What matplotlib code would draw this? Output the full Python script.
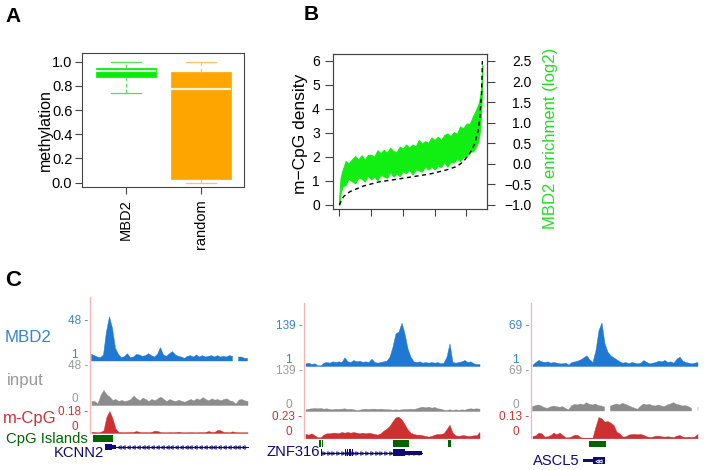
import numpy as np
import matplotlib
matplotlib.use('Agg')
import matplotlib.pyplot as plt
import matplotlib.transforms as mtransforms
from matplotlib.patches import Rectangle

plt.rcParams['font.family'] = ['Liberation Sans', 'DejaVu Sans']
plt.rcParams['axes.linewidth'] = 0.8

nan = np.nan

# ---------------- data ----------------

# Panel A: methylation boxplots
box_groups = ['MBD2', 'random']
box_whislo = [0.74, 0.0]
box_q1     = [0.876, 0.028]
box_med    = [0.923, 0.777]
box_q3     = [0.945, 0.917]
box_whishi = [1.0, 1.0]

# Panel B: sorted regions, m-CpG density (left axis) and MBD2 enrichment band (right axis)
density_x = [0, 270, 690, 1530, 2570, 3620, 4660, 5710, 6750, 7380, 7800,
             8210, 8530, 8740, 8840, 8950, 9000]
density_y = [0.0, 0.35, 0.56, 0.79, 0.97, 1.07, 1.18, 1.29, 1.46, 1.60, 1.80,
             2.15, 2.57, 3.12, 3.68, 4.65, 6.0]

band_x = [0, 80, 200, 400, 600, 800, 1000, 1200, 1400, 1600, 1800, 2000,
          2200, 2400, 2600, 2800, 3000, 3200, 3400, 3600, 3800, 4000, 4200,
          4400, 4600, 4800, 5000, 5200, 5400, 5600, 5800, 6000, 6200, 6400,
          6600, 6800, 7000, 7200, 7400, 7600, 7800, 8000, 8200, 8400,
          8550, 8700, 8800, 8880, 8940, 8980, 9000]
band_lo = [-1.00, -0.72, -0.55, -0.51, -0.36, -0.43, -0.47, -0.34, -0.36, -0.43,
           -0.29, -0.38, -0.31, -0.40, -0.26, -0.31, -0.34, -0.20, -0.31, -0.23,
           -0.30, -0.18, -0.23, -0.14, -0.26, -0.14, -0.16, -0.19, -0.06, -0.14,
           -0.06, -0.14, -0.04, -0.08, 0.04, -0.07, 0.05, 0.03, 0.13, 0.06,
           0.17, 0.17, 0.29, 0.30,
           0.38, 0.50, 0.65, 0.95, 1.39, 1.85, 2.12]
band_hi = [-0.80, -0.34, -0.16, 0.07, 0.01, 0.11, 0.19, 0.10, 0.21, 0.10,
           0.22, 0.22, 0.17, 0.33, 0.26, 0.34, 0.27, 0.39, 0.31, 0.28,
           0.42, 0.37, 0.47, 0.39, 0.47, 0.42, 0.58, 0.49, 0.55, 0.51,
           0.64, 0.58, 0.66, 0.57, 0.70, 0.74, 0.67, 0.77, 0.73, 0.91,
           0.86, 0.98, 0.97, 1.15,
           1.27, 1.40, 1.52, 1.70, 1.96, 2.25, 2.40]

# Panel C: browser tracks (one value per bin)
kcnn2_mbd2 = [8.8, 7.3, 5.7, 4.9, 8.1, 35.5, 53.0, 39.4, 15.9, 8.8,
              4.9, 6.1, 9.6, 4.9, 5.7, 8.8, 8.1, 6.5, 7.3, 9.6,
              7.3, 5.7, 8.8, 16.7, 8.1, 6.5, 9.6, 12.0, 8.1, 6.5,
              5.7, 4.1, 6.5, 7.3, 5.7, 8.1, 5.7, 7.3, 5.7, 6.5,
              7.3, 5.7, 7.3, 5.7, 6.5, 5.7, 7.3, 6.5, nan, 5.7,
              5.7, 4.1, 4.1]
kcnn2_input = [4.9, 4.9, 2.0, 12.3, 18.5, 13.1, 10.3, 6.2, 7.4, 4.9,
               6.2, 4.9, 5.7, 7.4, 11.5, 8.2, 5.7, 9.0, 7.4, 4.9,
               7.4, 5.7, 8.2, 10.3, 7.4, 4.9, 7.4, 5.7, 4.9, 6.6,
               4.9, 4.1, 5.7, 7.4, 5.7, 8.2, 6.6, 9.8, 7.4, 5.7,
               8.2, 6.6, 7.4, 5.7, 7.4, 8.2, 5.7, 4.9, 1.6, 6.6,
               7.4, 5.7, 4.9]
kcnn2_mcpg = [0.009, 0.009, 0.006, 0.009, 0.023, 0.137, 0.186, 0.123, 0.037, 0.009,
              0.008, 0.007, 0.008, 0.009, 0.010, 0.017, 0.009, 0.007, 0.008, 0.007,
              0.009, 0.020, 0.017, 0.008, 0.007, 0.006, 0.008, 0.007, 0.008, 0.011,
              0.007, 0.006, 0.007, 0.008, 0.007, 0.006, 0.008, 0.007, 0.009, 0.017,
              0.009, 0.010, 0.026, 0.023, 0.009, 0.008, 0.007, 0.014, 0.008, 0.007,
              0.006, 0.007, 0.006]

znf316_mbd2 = [10.2, 12.5, 7.9, 10.2, 3.3, 3.3, 12.5, 14.8, 12.5, 17.1,
               14.8, 17.1, 14.8, 30.9, 17.1, 14.8, 21.7, 17.1, 19.4, 14.8,
               17.1, 14.8, 26.3, 14.8, 12.5, 14.8, 17.1, 19.4, 33.2, 67.7,
               113.7, 119.5, 150.5, 113.7, 62.0, 33.2, 17.1, 14.8, 17.1, 12.5,
               14.8, 12.5, 14.8, 12.5, 14.8, 10.2, 12.5, 33.2, 79.2, 14.8,
               12.5, 14.8, 17.1, 21.7, 14.8, 17.1, 10.2, 7.9, 7.9]
znf316_input = [5.8, 8.1, 9.3, 10.4, 9.3, 10.4, 8.1, 9.3, 6.9, 5.8,
                8.1, 6.9, 8.1, 9.3, 6.9, 8.1, 5.8, 3.5, 4.6, 6.9,
                8.1, 6.9, 8.1, 8.1, 6.9, 8.1, 6.9, 5.8, 5.8, 4.6,
                5.8, 4.6, 5.8, 6.9, 6.9, 8.1, 6.9, 9.3, 12.8, 15.0,
                12.8, 15.0, 11.6, 13.9, 9.3, 8.1, 4.6, 3.5, 5.8, 3.5,
                5.8, 3.5, 5.8, 4.6, 8.1, 9.3, 8.1, 9.3, 8.1]
znf316_mcpg = [0.046, 0.039, 0.053, 0.032, 0.011, 0.011, 0.039, 0.053, 0.053, 0.060,
               0.060, 0.053, 0.067, 0.060, 0.067, 0.060, 0.067, 0.060, 0.053, 0.060,
               0.053, 0.060, 0.053, 0.046, 0.039, 0.053, 0.081, 0.102, 0.131, 0.180,
               0.223, 0.230, 0.202, 0.152, 0.096, 0.060, 0.046, 0.039, 0.039, 0.032,
               0.025, 0.018, 0.025, 0.039, 0.046, 0.046, 0.053, 0.096, 0.145, 0.060,
               0.032, 0.025, 0.032, 0.032, 0.025, 0.025, 0.032, 0.032, 0.067]

ascl5_mbd2 = [3.3, 7.8, 11.2, 8.9, 7.8, 8.9, 6.7, 7.8, 6.7, 5.5,
              5.5, 6.7, 3.3, 7.8, 8.9, 10.1, 12.3, 15.7, 19.1, 12.3,
              7.8, 28.2, 62.0, 75.0, 39.5, 25.4, 19.1, 15.7, 12.3, 8.9,
              6.7, 7.8, 5.5, 7.8, 6.7, 5.5, 6.7, 11.2, 7.8, 5.5,
              6.7, 7.8, 10.1, 8.9, 11.2, 7.8, 8.9, 6.7, 13.5, 16.9,
              10.1, 7.8, 6.7, 5.5, 6.7, 7.8]
ascl5_input = [7.5, 9.2, 10.4, 8.6, 5.8, 4.6, 6.9, 8.6, 7.5, 6.3,
               7.5, 4.6, 1.7, 8.6, 11.5, 10.4, 12.1, 10.4, 14.4, 11.5,
               10.4, 12.1, 9.2, 8.6, 6.9, nan, 8.6, 10.4, 12.1, 10.4,
               13.2, 11.5, 9.2, 6.9, 5.0, 2.9, 8.0, 12.1, 10.4, 11.5,
               9.2, 8.6, 10.4, 8.6, 7.5, 10.4, 12.1, 14.4, 11.5, 10.4,
               8.6, 9.2, 7.5, 4.6, nan, 6.9]
ascl5_mcpg = [0.014, 0.018, 0.034, 0.030, 0.010, 0.012, 0.020, 0.034, 0.024, 0.034,
              0.020, 0.006, 0.006, 0.012, 0.022, 0.020, 0.006, 0.004, 0.004, 0.004,
              0.004, 0.070, 0.128, 0.120, 0.100, 0.104, 0.094, 0.080, 0.040, 0.030,
              0.010, 0.012, 0.022, 0.026, 0.026, 0.024, 0.026, 0.020, 0.012, 0.008,
              0.010, 0.016, 0.016, 0.012, 0.010, 0.012, 0.010, 0.008, 0.016, 0.020,
              0.010, 0.008, 0.010, 0.008, 0.010, 0.026]

# scale labels (bottom, top) for each track
kcnn2_scales  = [(1, 48), (0, 48), (0, 0.18)]
znf316_scales = [(1, 139), (0, 139), (0, 0.23)]
ascl5_scales  = [(1, 69), (0, 69), (0, 0.13)]

# annotations, in bin units
kcnn2_islands  = [(1.1, 7.8)]
znf316_islands = [(5.0, 5.6), (6.0, 6.4), (29.8, 35.1), (48.1, 48.9)]
ascl5_islands  = [(19.4, 25.0)]

kcnn2_intron  = (8.5, 52.6)
znf316_intron = (5.6, 39.2)
ascl5_intron  = None
kcnn2_thick   = [(5.1, 7.3)]
kcnn2_thin    = [(7.3, 8.5)]
znf316_thick  = [(5.6, 5.9), (13.6, 13.85), (14.3, 14.55), (15.0, 15.25), (15.4, 15.65),
                 (16.1, 16.35), (16.9, 17.15), (29.8, 33.7)]
znf316_thin   = [(33.7, 39.2)]
ascl5_thick   = [(20.7, 24.7)]
ascl5_thin    = [(17.3, 20.7)]

# ---------------- figure ----------------

W, H = 704, 470
fig = plt.figure(figsize=(W / 100, H / 100), dpi=100)


def px_axes(x0, y0, x1, y1):
    return fig.add_axes([x0 / W, 1 - y1 / H, (x1 - x0) / W, (y1 - y0) / H])


def fig_text(x, y, s, **kw):
    fig.text(x / W, 1 - y / H, s, **kw)


# ---- Panel A ----
axA = px_axes(82, 53, 244, 187)
stats = [dict(label=g, whislo=a, q1=b, med=c, q3=d, whishi=e)
         for g, a, b, c, d, e in zip(box_groups, box_whislo, box_q1, box_med, box_q3, box_whishi)]
bp = axA.bxp(stats, positions=[1, 2], widths=0.8, patch_artist=True, showfliers=False)
fill_cols = ['#00ee00', '#ffa500']
line_cols = ['#55dd55', '#ffc266']
med_cols = ['#d8ffd8', '#fff4dc']
for i in range(2):
    bp['boxes'][i].set(facecolor=fill_cols[i], edgecolor=fill_cols[i], linewidth=0.5)
    bp['medians'][i].set(color=med_cols[i], linewidth=1.6)
    for w in bp['whiskers'][2 * i:2 * i + 2]:
        w.set(color=line_cols[i], linestyle=(0, (3, 2)), linewidth=0.9)
    for c in bp['caps'][2 * i:2 * i + 2]:
        c.set(color=line_cols[i], linewidth=0.9)
axA.set_xlim(0.413, 2.58)
axA.set_ylim(-0.036, 1.072)
axA.set_yticks([0, 0.2, 0.4, 0.6, 0.8, 1.0])
axA.set_yticklabels(['0.0', '0.2', '0.4', '0.6', '0.8', '1.0'])
axA.set_xticks([1, 2])
axA.set_xticklabels(box_groups, rotation=90)
axA.tick_params(axis='y', length=5, pad=2, labelsize=10.5, color='#444444')
axA.tick_params(axis='x', length=5, pad=4, labelsize=10.5, color='#444444')
for sp in axA.spines.values():
    sp.set_color('#444444')
fig_text(45, 130, 'methylation', rotation=90, ha='center', va='center', fontsize=11.5)
fig_text(13, 17, 'A', ha='center', va='center', fontsize=15, weight='bold')

# ---- Panel B ----
axB = px_axes(333, 54, 487, 209)
axB2 = axB.twinx()
left_lim = (-0.17, 6.29)
axB.set_ylim(left_lim)
axB2.set_ylim(left_lim[0] * 3.5 / 6 - 1, left_lim[1] * 3.5 / 6 - 1)
axB.set_xlim(-395, 9290)
axB2.fill_between(band_x, band_lo, band_hi, color='#11ee11', edgecolor='#11ee11', linewidth=0.7)
axB.plot(density_x, density_y, color='black', linestyle=(0, (3, 2.5)), linewidth=1.0)
axB.set_zorder(axB2.get_zorder() + 1)
axB.patch.set_visible(False)
axB.set_xticks([0, 2000, 4000, 6000, 8000])
axB.set_xticklabels([])
axB.set_yticks(range(7))
axB.tick_params(axis='y', length=5.5, pad=4, labelsize=10, color='#444444')
axB.tick_params(axis='x', length=5, color='#444444')
r_ticks = [-1.0, -0.5, 0.0, 0.5, 1.0, 1.5, 2.0, 2.5]
axB2.set_yticks(r_ticks)
axB2.set_yticklabels([('%.1f' % t).replace('-', '\u2212') for t in r_ticks])
axB2.tick_params(axis='y', length=5.5, pad=26.5, labelsize=10, color='#444444')
for lbl in axB2.get_yticklabels():
    lbl.set_ha('right')
for ax in (axB, axB2):
    for sp in ax.spines.values():
        sp.set_color('#444444')
fig_text(301, 134, 'm\u2212CpG density', rotation=90, ha='center', va='center', fontsize=12.5)
fig_text(551, 138, 'MBD2 enrichment (log2)', rotation=90, ha='center', va='center',
         fontsize=12, color='#22dd22')
fig_text(311, 15, 'B', ha='center', va='center', fontsize=15, weight='bold')

# ---- Panel C ----
fig_text(13.5, 281, 'C', ha='center', va='center', fontsize=16, weight='bold')

track_cols = ['#1f78d1', '#8c8c8c', '#cc3030']
label_cols = ['#3584d6', '#9a9a9a', '#cc3333']
pink = '#f4b4b4'
navy = '#0c0c78'
bin_px = 3

panels = [
    dict(x0=90, tracks=[kcnn2_mbd2, kcnn2_input, kcnn2_mcpg], scales=kcnn2_scales,
         rows=[(297, 361, 321), (361, 405, 366), (405, 433, 411.7)],
         islands=kcnn2_islands, isl_y=(2, 6.7), intron=kcnn2_intron, strand='<',
         thick=kcnn2_thick, thin=kcnn2_thin, gene_y=(14, 3.0, 1.6),
         gene='KCNN2', gene_pos=(104, 453)),
    dict(x0=304, tracks=[znf316_mbd2, znf316_input, znf316_mcpg], scales=znf316_scales,
         rows=[(303, 366, 326), (366, 411, 371), (411, 438.3, 416.7)],
         islands=znf316_islands, isl_y=(1.7, 7.3), intron=znf316_intron, strand='>',
         thick=znf316_thick, thin=znf316_thin, gene_y=(14.3, 3.7, 2.0),
         gene='ZNF316', gene_pos=(320, 452)),
    dict(x0=531, tracks=[ascl5_mbd2, ascl5_input, ascl5_mcpg], scales=ascl5_scales,
         rows=[(303, 366, 326), (366, 411, 371), (411, 438.3, 416.7)],
         islands=ascl5_islands, isl_y=(2.4, 6.6), intron=ascl5_intron, strand='<',
         thick=ascl5_thick, thin=ascl5_thin, gene_y=(22.4, 3.3, 1.3),
         gene='ASCL5', gene_pos=(580, 461)),
]

for p in panels:
    n = len(p['tracks'][0])
    x0 = p['x0']
    x1 = x0 + n * bin_px
    for k, (vals, (lo, hi), (top, base, tick)) in enumerate(zip(p['tracks'], p['scales'], p['rows'])):
        ax = px_axes(x0, top, x1, base)
        ymax = lo + (hi - lo) * (base - top) / (base - tick)
        ax.set_ylim(lo, ymax)
        ax.set_xlim(0, n)
        xs = np.arange(n) + 0.5
        ax.fill_between(xs, vals, lo, color=track_cols[k], linewidth=0.3,
                        edgecolor=track_cols[k], clip_on=False)
        ax.set_xticks([])
        ax.set_yticks([])
        for s in ('top', 'right', 'bottom'):
            ax.spines[s].set_visible(False)
        ax.spines['left'].set_color(pink)
        ax.spines['left'].set_linewidth(0.9)
        ax.patch.set_visible(False)
        trans = mtransforms.blended_transform_factory(ax.transAxes, ax.transData)
        t_top = mtransforms.offset_copy(trans, fig=fig, x=-1.5, y=0, units='dots')
        t_bot = mtransforms.offset_copy(trans, fig=fig, x=-12, y=0, units='dots')
        ax.text(0, hi, '%g -' % hi, transform=t_top, ha='right', va='center',
                fontsize=8.5, color=label_cols[k])
        ax.text(0, lo, '%g' % lo, transform=t_bot, ha='right', va='bottom',
                fontsize=8.5, color=label_cols[k])

    base_red = p['rows'][2][1]
    ann = px_axes(x0, base_red, x1, H)
    ann.set_xlim(0, n)
    ann.set_ylim(H - base_red, 0)
    ann.axis('off')
    iy, ih = p['isl_y']
    for s, e in p['islands']:
        ann.add_patch(Rectangle((s, iy), e - s, ih, color='#006400', linewidth=0))
    gy, th, tn = p['gene_y']
    if p['intron'] is not None:
        s, e = p['intron']
        ann.plot([s, e], [gy, gy], color=navy, linewidth=0.8)
        marks = np.arange(s + 1.0, e, 1.6)
        ann.plot(marks, np.full(len(marks), gy), linestyle='', marker=p['strand'],
                 markersize=2.6, color=navy, markerfacecolor='none', markeredgewidth=0.6)
    for s, e in p['thin']:
        ann.add_patch(Rectangle((s, gy - tn), e - s, 2 * tn, color=navy, linewidth=0))
    for s, e in p['thick']:
        ann.add_patch(Rectangle((s, gy - th), e - s, 2 * th, color=navy, linewidth=0))
    if p['intron'] is None:
        s, e = p['thick'][0]
        ann.plot([s + 1.4, s + 2.2], [gy, gy], linestyle='', marker='<', markersize=2.4,
                 color='white', markerfacecolor='none', markeredgewidth=0.6)
    gx, gyy = p['gene_pos']
    fig_text(gx, gyy, p['gene'], ha='right', va='center', fontsize=10.6, color=navy)

fig_text(5, 337, 'MBD2', ha='left', va='center', fontsize=12.2, color=label_cols[0])
fig_text(7, 380, 'input', ha='left', va='center', fontsize=12.2, color=label_cols[1])
fig_text(3, 418, 'm-CpG', ha='left', va='center', fontsize=12, color=label_cols[2])
fig_text(88, 439, 'CpG Islands', ha='right', va='center', fontsize=10.7, color='#006400')

fig.savefig('out.png', dpi=100)
